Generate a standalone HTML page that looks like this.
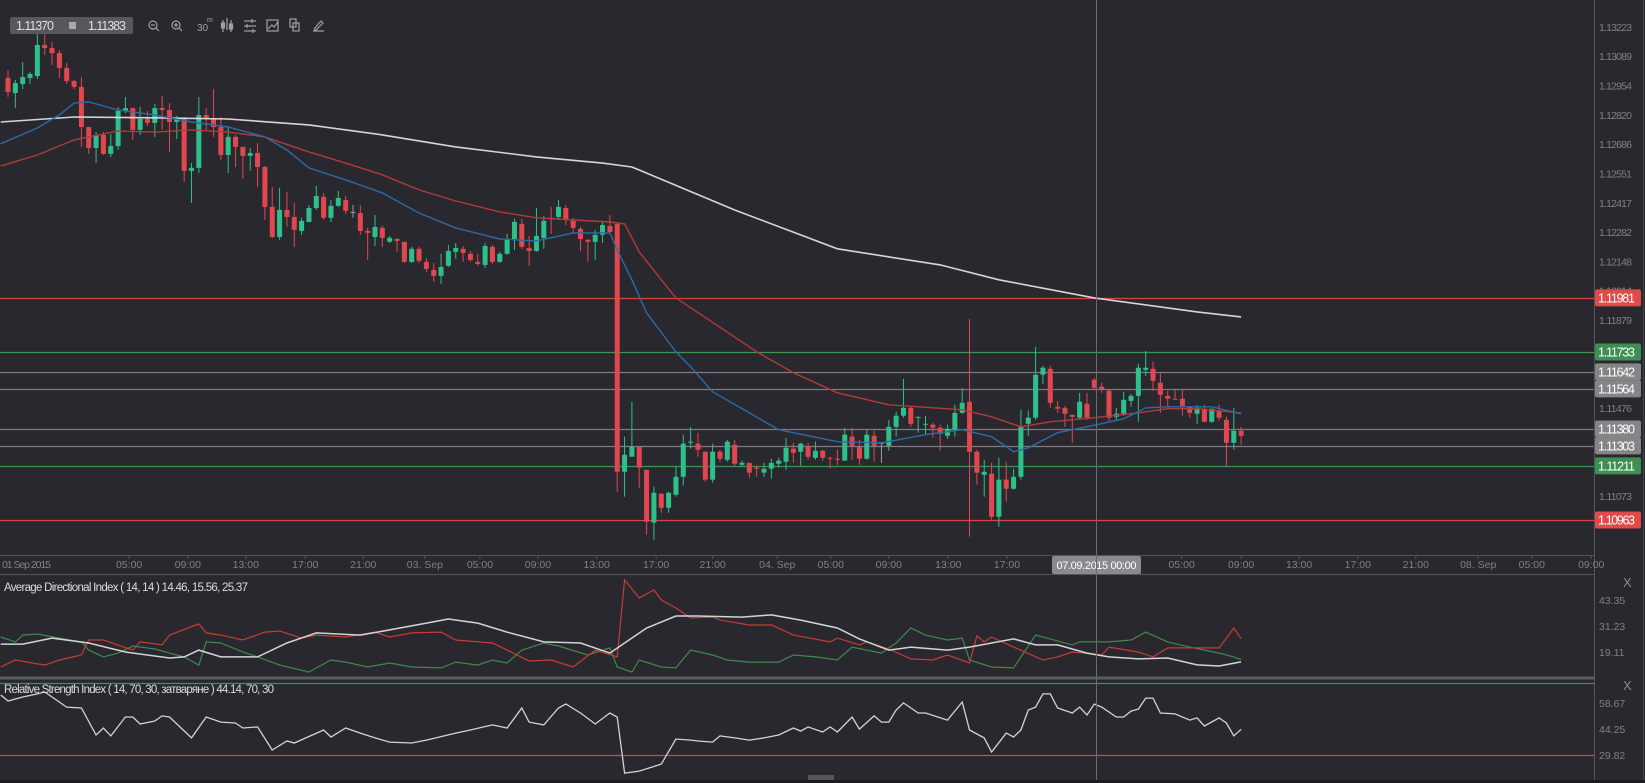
<!DOCTYPE html>
<html><head><meta charset="utf-8"><title>EURUSD 30m chart</title>
<style>
html,body{margin:0;padding:0;background:#29282e;}
svg{display:block;font-family:"Liberation Sans",sans-serif;}
</style></head>
<body>
<svg id="chart" width="1645" height="783" viewBox="0 0 1645 783" xmlns="http://www.w3.org/2000/svg">
<rect x="0" y="0" width="1645" height="783" fill="#29282e"/>
<g id="plot"></g>
<g id="axes"></g>
<line x1="1096.5" y1="0" x2="1096.5" y2="780" stroke="#6a6a70" stroke-width="1"/>
<g>
 <rect x="10" y="17" width="123" height="17" rx="2" fill="#58575e"/>
 <text x="16" y="30" font-size="12.5" fill="#e0e0e4" textLength="38">1.11370</text>
 <rect x="69" y="22" width="7" height="7" fill="#a8a8ae"/>
 <text x="88" y="30" font-size="12.5" fill="#e0e0e4" textLength="38">1.11383</text>
 <g stroke="#a0a0a8" fill="none" stroke-width="1.2"><circle cx="153" cy="25" r="4"/><line x1="151" y1="25" x2="155" y2="25"/><line x1="156" y1="28" x2="159" y2="31"/></g>
 <g stroke="#a0a0a8" fill="none" stroke-width="1.2"><circle cx="176" cy="25" r="4"/><line x1="174" y1="25" x2="178" y2="25"/><line x1="176" y1="23" x2="176" y2="27"/><line x1="179" y1="28" x2="182" y2="31"/></g>
 <text x="197" y="31" font-size="10" fill="#a0a0a8">30</text>
 <text x="207" y="22" font-size="7" fill="#a0a0a8">m</text>
 <g stroke="#a0a0a8" stroke-width="1.2"><line x1="223" y1="20" x2="223" y2="32"/><line x1="227" y1="18" x2="227" y2="30"/><line x1="231" y1="20" x2="231" y2="32"/><rect x="221.5" y="23" width="3" height="5" fill="#a0a0a8"/><rect x="229.5" y="24" width="3" height="5" fill="#a0a0a8"/></g>
 <g stroke="#a0a0a8" stroke-width="1.2"><line x1="244" y1="21" x2="256" y2="21"/><line x1="244" y1="26" x2="256" y2="26"/><line x1="244" y1="31" x2="256" y2="31"/><line x1="252" y1="19" x2="252" y2="23"/><line x1="247" y1="24" x2="247" y2="28"/><line x1="253" y1="29" x2="253" y2="33"/></g>
 <g stroke="#a0a0a8" fill="none" stroke-width="1.2"><rect x="267" y="20" width="11" height="11"/><polyline points="268,29 272,25 274,27 278,22"/></g>
 <g stroke="#a0a0a8" fill="none" stroke-width="1.2"><rect x="290" y="19" width="6" height="8"/><rect x="293" y="23" width="6" height="8"/></g>
 <g stroke="#a0a0a8" fill="none" stroke-width="1.2"><line x1="313" y1="31" x2="324" y2="31"/><polyline points="314,29 321,21 323,23 316,30 314,30"/></g>
</g>
<g>
 <text x="4" y="591" font-size="11.5" fill="#dcdce0" textLength="244">Average Directional Index ( 14, 14 ) 14.46, 15.56, 25.37</text>
 <text x="1623" y="587" font-size="13" fill="#8a8a90">X</text>
</g>
<g>
 <text x="4" y="693" font-size="11.5" fill="#dcdce0" textLength="270">Relative Strength Index ( 14, 70, 30, затваряне ) 44.14, 70, 30</text>
 <text x="1623" y="690" font-size="13" fill="#8a8a90">X</text>
</g>
<rect x="808" y="775" width="26" height="5" fill="#55555b"/>
</svg>
<script>
// ---------- data (prices in points, 1e-5) ----------
const opens = [
112989,112920,112961,112989,112998,113140,113126,113103,113035,112975,
112948,112764,112668,112728,112641,112677,112838,112851,112751,112801,
112783,112851,112842,112787,112801,112563,112577,112819,112801,112764,
112636,112719,112673,112632,112645,112581,112398,112260,112384,112352,
112288,112329,112393,112444,112348,112403,112430,112375,112370,112288,
112260,112302,112238,112251,112238,112146,112206,112146,112109,112082,
112128,112192,112206,112183,112146,112132,112215,112146,112183,112251,
112320,112210,112196,112256,112348,112352,112393,112334,112297,112247,
112238,112270,112311,112320,111184,111253,111299,111193,110951,111084,
111019,111079,111161,111317,111313,111276,111148,111276,111239,111308,
111216,111225,111203,111180,111198,111221,111230,111290,111276,111299,
111248,111280,111248,111244,111235,111345,111299,111244,111349,111317,
111303,111390,111441,111477,111432,111400,111400,111386,111349,111377,
111454,111505,111276,111170,111175,110978,111148,111106,111161,111404,
111432,111629,111656,111482,111477,111445,111432,111496,111606,111574,
111555,111436,111450,111509,111532,111651,111656,111592,111532,111519,
111519,111482,111450,111473,111413,111464,111422,111317,111372];
const highs = [
113025,112980,113062,113016,113190,113190,113154,113117,113057,112980,
112993,112764,112741,112741,112732,112856,112902,112851,112856,112838,
112870,112906,112874,112815,112810,112599,112902,112851,112938,112810,
112764,112728,112673,112668,112691,112586,112490,112485,112467,112416,
112348,112407,112494,112462,112430,112471,112448,112407,112407,112302,
112361,112311,112265,112256,112238,112215,112215,112164,112141,112183,
112224,112233,112219,112196,112183,112233,112224,112192,112274,112343,
112343,112265,112393,112357,112398,112430,112407,112348,112306,112251,
112293,112329,112361,112329,111345,111505,111299,111193,111116,111084,
111093,111207,111354,111390,111363,111276,111313,111285,111331,111331,
111235,111225,111212,111225,111244,111248,111340,111317,111317,111317,
111322,111285,111253,111285,111386,111386,111331,111377,111372,111317,
111422,111459,111610,111486,111436,111441,111409,111400,111400,111491,
111569,111885,111285,111239,111225,111248,111230,111198,111468,111464,
111757,111670,111670,111509,111486,111445,111546,111546,111615,111592,
111560,111477,111551,111541,111679,111738,111688,111638,111555,111560,
111560,111482,111491,111491,111473,111491,111436,111477,111390];
const lows = [
112902,112851,112938,112961,112984,113094,113048,112989,112961,112938,
112673,112641,112599,112636,112627,112659,112828,112705,112728,112769,
112719,112751,112650,112709,112512,112416,112554,112751,112719,112613,
112554,112581,112526,112563,112490,112338,112256,112247,112306,112215,
112270,112329,112384,112338,112329,112398,112366,112348,112270,112155,
112219,112215,112233,112192,112141,112141,112141,112100,112054,112045,
112123,112160,112146,112146,112128,112119,112137,112141,112178,112201,
112206,112128,112192,112206,112274,112338,112315,112274,112196,112146,
112155,112233,112270,111093,111070,111253,111111,110896,110873,110996,
110996,111070,111120,111290,111253,111138,111134,111230,111230,111207,
111207,111157,111161,111161,111152,111203,111193,111225,111212,111239,
111239,111235,111198,111216,111235,111239,111216,111239,111230,111225,
111280,111345,111432,111390,111363,111354,111340,111280,111335,111345,
111450,110887,111125,111070,110964,110932,111047,111102,111148,111349,
111422,111587,111477,111454,111390,111317,111422,111422,111560,111546,
111418,111418,111441,111482,111413,111624,111555,111454,111482,111519,
111441,111432,111404,111413,111409,111418,111207,111285,111308];
const closes = [
112925,112966,112993,113007,113140,113126,113103,113035,112975,112948,
112764,112668,112728,112641,112677,112838,112851,112751,112801,112783,
112851,112842,112787,112801,112563,112577,112819,112801,112764,112636,
112719,112673,112632,112645,112581,112398,112260,112384,112352,112293,
112334,112393,112448,112348,112403,112439,112380,112375,112288,112279,
112306,112256,112256,112242,112146,112206,112151,112114,112082,112123,
112196,112210,112187,112155,112137,112219,112146,112183,112251,112329,
112215,112196,112265,112334,112343,112398,112343,112302,112251,112238,
112270,112315,112283,111184,111262,111299,111203,110955,111088,111019,
111088,111161,111313,111322,111285,111148,111276,111244,111322,111221,
111225,111180,111198,111198,111225,111235,111294,111271,111313,111253,
111280,111248,111244,111239,111354,111303,111244,111354,111303,111317,
111390,111441,111477,111404,111436,111404,111386,111358,111381,111454,
111500,111276,111180,111184,110978,111148,111106,111161,111390,111432,
111629,111661,111500,111473,111450,111436,111505,111432,111569,111564,
111432,111450,111514,111532,111661,111661,111601,111537,111519,111514,
111486,111454,111477,111413,111473,111432,111317,111372,111349];

// moving averages (candle index, price points)
const whiteIdx = [-1,9,21,30,41,51,61,72,81,85,99,113,127,135,148,162,168];
const whiteVal = [112787,112810,112806,112801,112774,112728,112673,112627,112599,112581,112384,112206,112132,112064,111981,111917,111894];
const redIdx = [-1,4,9,15,20,25,30,35,41,46,51,56,61,67,72,77,82,84,86,89,91,102,107,113,120,130,134,138,142,148,154,158,162,168];
const redVal = [112586,112636,112705,112746,112741,112751,112741,112719,112650,112599,112545,112476,112425,112375,112348,112338,112329,112320,112192,112064,111981,111734,111638,111546,111491,111468,111436,111390,111413,111432,111454,111473,111473,111454];
const blueIdx = [-1,4,7,9,11,15,20,25,30,35,38,41,46,51,56,61,67,72,77,82,83,85,87,91,93,96,101,105,113,119,125,130,134,137,139,143,147,152,155,158,164,168];
const blueVal = [112687,112760,112819,112874,112879,112842,112819,112787,112764,112719,112659,112577,112522,112462,112370,112302,112251,112242,112279,112279,112201,112064,111912,111734,111665,111551,111454,111377,111322,111317,111354,111377,111345,111276,111294,111363,111390,111427,111477,111482,111482,111450];

// horizontal levels
const levelValues = [111981,111733,111642,111564,111380,111303,111211,110963];
const levelKinds = ['red','green','gray','gray','gray','gray','green','red'];

// price axis
const priceTicks = [113223,113089,112954,112820,112686,112551,112417,112282,112148,112014,111879,111476,111073];

// time axis
const timeLabels = ['05:00','09:00','13:00','17:00','21:00','03. Sep','05:00','09:00','13:00','17:00','21:00','04. Sep','05:00','09:00','13:00','17:00','05:00','09:00','13:00','17:00','21:00','08. Sep','05:00','09:00'];
const timeIdx = [16.5,24.5,32.4,40.5,48.4,56.8,64.3,72.2,80.2,88.3,96.0,104.8,112.1,120.0,128.1,136.1,159.9,168.0,175.9,183.9,191.8,200.3,207.6,215.7];

// ADX panel
const adxIdx = [-1,2,6,11,16,22,24,26,29,34,38,42,48,52,57,60,64,68,73,78,82,84,87,91,94,100,104,108,113,116,120,123,128,131,137,140,143,147,150,154,158,162,165,168];
const adxVal = [22.8,22.8,25.6,23.3,19.1,16.3,16.8,20.0,16.8,16.8,23.3,28.0,27.0,29.4,32.6,34.5,32.6,28.4,23.8,23.3,18.6,23.3,30.3,35.9,35.9,35.4,36.4,34.0,30.3,25.2,20.0,21.4,20.0,21.4,25.2,22.4,22.4,18.6,16.8,15.9,16.3,13.1,12.6,14.5];
const minusIdx = [-1,1,5,7,10,11,13,17,18,21,22,26,27,29,32,35,37,40,42,46,50,52,55,59,61,66,68,71,74,77,80,83,84,86,88,89,91,93,96,97,101,104,107,112,113,116,117,120,123,126,128,131,132,133,134,137,141,143,145,149,150,154,156,158,159,165,167,168];
const minusVal = [12.1,15.4,13.0,15.4,17.7,24.7,24.7,20.0,23.8,22.4,27.0,32.2,28.0,27.0,24.7,28.4,28.9,25.6,27.0,26.1,28.4,26.1,28.0,28.4,24.7,23.3,20.0,14.9,15.4,12.1,20.0,16.8,52.7,44.3,48.0,43.4,39.6,35.0,35.4,34.0,31.7,31.7,27.0,23.8,25.6,22.4,23.8,20.5,15.9,15.4,17.7,14.0,26.6,23.8,26.1,21.4,15.4,16.8,19.1,17.7,21.4,19.1,16.8,21.0,21.0,21.0,30.3,25.4];
const plusIdx = [-1,1,2,4,7,10,11,13,15,17,20,22,24,26,27,29,32,34,37,41,44,46,49,52,55,59,61,64,66,68,70,73,75,79,82,83,85,86,89,91,93,96,98,101,105,107,110,113,115,119,121,123,125,128,130,131,134,137,140,145,146,150,153,155,158,161,165,167,168];
const plusVal = [26.1,23.8,27.0,27.5,25.6,23.8,20.0,16.8,18.6,21.9,20.5,18.6,16.8,13.0,23.8,23.3,19.1,16.8,13.0,9.8,15.4,14.4,12.1,14.0,12.1,11.7,14.4,13.0,15.4,14.0,20.0,23.3,21.9,17.7,21.0,12.1,9.8,15.4,12.1,11.7,20.0,17.7,15.4,14.4,14.4,17.7,16.8,15.4,21.4,18.6,23.3,30.3,27.0,24.7,25.6,15.4,12.1,11.7,27.0,22.4,23.8,23.8,24.7,28.4,23.8,21.4,18.6,16.8,15.6];
const adxTicks = [43.35,31.23,19.11];

// RSI panel
const rsiIdx = [-1,0,2,4,5,8,10,12,13,14,16,17,18,20,21,22,25,27,29,31,32,34,36,38,39,43,44,46,48,50,52,55,57,61,63,66,68,70,71,73,75,76,78,80,82,83,84,86,89,91,93,94,96,97,99,101,103,105,107,108,109,111,112,113,115,116,118,119,120,121,122,124,125,128,130,131,133,134,136,137,138,139,140,141,142,143,145,146,147,148,149,151,152,153,154,155,156,157,159,161,162,163,165,166,167,168];
const rsiVal = [63.1,59.8,62.0,63.7,64.8,56.4,55.9,40.9,44.8,40.4,50.9,50.9,47.0,48.7,51.5,50.9,39.3,50.9,48.1,47.6,44.8,45.4,32.6,37.6,36.5,43.7,39.8,44.8,42.0,39.3,37.0,36.5,38.1,42.0,43.7,46.5,44.8,55.9,48.1,46.5,55.9,58.1,53.1,47.0,53.1,50.9,19.8,20.9,24.8,38.7,38.1,37.6,37.0,40.4,39.3,38.1,39.3,40.9,44.8,43.1,45.4,42.6,45.4,42.6,50.9,44.2,51.5,48.1,48.1,54.8,58.7,53.1,53.1,49.2,59.2,43.7,39.3,31.5,42.0,39.8,43.7,54.8,56.4,63.7,63.7,55.9,53.1,56.4,52.0,58.1,56.4,50.9,50.9,54.2,55.3,61.4,61.4,53.1,52.6,49.2,50.4,45.9,50.4,47.6,40.4,44.1];
const rsiTicks = [58.67,44.25,29.82];
const rsiLevels = [70,30];

// ---------- scales ----------
const NS = 'http://www.w3.org/2000/svg';
const PLOT_R = 1594;
function xOf(i){ return 8 + 7.34*i; }
function yPrice(p){ return 26.9 + (113223 - p)*0.21819; }
function yAdx(v){ return 600 + (43.35 - v)*2.145; }
function yRsi(v){ return 703 + (58.67 - v)*1.803; }
function mk(tag, attrs, parent){
  const e = document.createElementNS(NS, tag);
  for (const k in attrs) e.setAttribute(k, attrs[k]);
  parent.appendChild(e);
  return e;
}
const plot = document.getElementById('plot');
const axes = document.getElementById('axes');

// panel frames
let e;
e = mk('line',{x1:0,y1:555.5,x2:PLOT_R,y2:555.5,stroke:'#55555b','stroke-width':1},axes);


e = mk('line',{x1:0,y1:574.5,x2:PLOT_R,y2:574.5,stroke:'#55555b','stroke-width':1},axes);


e = mk('rect',{x:0,y:676.5,width:PLOT_R,height:3,fill:'#5a5a60'},axes);


e = mk('line',{x1:PLOT_R+0.5,y1:0,x2:PLOT_R+0.5,y2:780,stroke:'#55555b','stroke-width':1},axes);


e = mk('line',{x1:1643.5,y1:0,x2:1643.5,y2:780,stroke:'#44444a','stroke-width':1},axes);


e = mk('rect',{x:0,y:780,width:1645,height:3,fill:'#1c1b20'},axes);



// price ticks
priceTicks.forEach(function(p){
  const t = mk('text',{x:1599,y:yPrice(p)+4,'font-size':10.5,fill:'#808088',textLength:33},axes);
  
  
  t.textContent = (p/100000).toFixed(5);
});

// time ticks
const t0 = mk('text',{x:2,y:568,'font-size':10.5,fill:'#808088',textLength:49},axes);


t0.textContent = '01 Sep 2015';
timeLabels.forEach(function(lb,k){
  const x = xOf(timeIdx[k]);
  const tk = mk('line',{x1:x,y1:555,x2:x,y2:559,stroke:'#55555b'},axes);
  
  
  const t = mk('text',{x:x,y:568,'font-size':10.5,fill:'#808088','text-anchor':'middle'},axes);
  
  
  t.textContent = lb;
});
const cbox = mk('rect',{x:1052,y:556,width:89,height:18,rx:2,fill:'#8a8a8e'},axes);


const ctext = mk('text',{x:1096.5,y:569,'font-size':11,fill:'#ffffff','text-anchor':'middle',textLength:80},axes);


ctext.textContent = '07.09.2015 00:00';

// level lines
const levelColors = {red:'#d9443f', green:'#3a9550', gray:'#7c7c80'};
const boxColors = {red:'#e04a48', green:'#3f8f54', gray:'#858587'};
levelValues.forEach(function(v,k){
  const y = Math.round(yPrice(v))+0.5;
  const l = mk('line',{x1:0,y1:y,x2:PLOT_R,y2:y,stroke:levelColors[levelKinds[k]],'stroke-width':1.2},plot);
  
  
});

// candles
for (let i=0;i<closes.length;i++){
  const x = xOf(i);
  const o = opens[i], c = closes[i];
  const col = c>o ? '#2ec08b' : (c<o ? '#e2474f' : '#9a9aa0');
  const w = mk('line',{x1:x,y1:yPrice(highs[i]),x2:x,y2:yPrice(lows[i]),stroke:col,'stroke-width':1},plot);
  
  
  const yt = yPrice(Math.max(o,c)), yb = yPrice(Math.min(o,c));
  const b = mk('rect',{x:x-2.5,y:yt,width:5,height:Math.max(1,yb-yt),fill:col},plot);
  
  
}

// lines helper
function pts(idx, vals, yf){
  return idx.map(function(ix,k){ return Math.max(0,xOf(ix)).toFixed(1)+','+yf(vals[k]).toFixed(1); }).join(' ');
}
let pl;
pl = mk('polyline',{points:pts(whiteIdx,whiteVal,yPrice),fill:'none',stroke:'#d6d6da','stroke-width':1.6},plot);


pl = mk('polyline',{points:pts(redIdx,redVal,yPrice),fill:'none',stroke:'#b23a3a','stroke-width':1.4},plot);


pl = mk('polyline',{points:pts(blueIdx,blueVal,yPrice),fill:'none',stroke:'#2e6aa4','stroke-width':1.4},plot);



// level label boxes (over axis)
levelValues.forEach(function(v,k){
  const y = yPrice(v);
  const r = mk('rect',{x:1595,y:y-8.5,width:46,height:17,rx:2,fill:boxColors[levelKinds[k]]},axes);
  
  
  const t = mk('text',{x:1598,y:y+4.5,'font-size':12.5,fill:'#ffffff',textLength:37},axes);
  
  
  t.textContent = (v/100000).toFixed(5);
});

// ADX panel
adxTicks.forEach(function(v){
  const t = mk('text',{x:1599,y:yAdx(v)+4,'font-size':10.5,fill:'#808088'},axes);
  
  
  t.textContent = v.toFixed(2);
});
pl = mk('polyline',{points:pts(plusIdx,plusVal,yAdx),fill:'none',stroke:'#3d8a4c','stroke-width':1.2},plot);


pl = mk('polyline',{points:pts(minusIdx,minusVal,yAdx),fill:'none',stroke:'#c63c36','stroke-width':1.2},plot);


pl = mk('polyline',{points:pts(adxIdx,adxVal,yAdx),fill:'none',stroke:'#d4d4d8','stroke-width':1.5},plot);



// RSI panel
rsiTicks.forEach(function(v){
  const t = mk('text',{x:1599,y:yRsi(v)+4,'font-size':10.5,fill:'#808088'},axes);
  
  
  t.textContent = v.toFixed(2);
});
rsiLevels.forEach(function(v,k){
  const y = Math.round(yRsi(v))+0.5;
  const l = mk('line',{x1:0,y1:y,x2:PLOT_R,y2:y,stroke:k===0?'#3a9550':'#d9443f','stroke-width':1.2},plot);
  
  
});
pl = mk('polyline',{points:pts(rsiIdx,rsiVal,yRsi),fill:'none',stroke:'#d4d4d8','stroke-width':1.3},plot);


</script>
</body></html>
